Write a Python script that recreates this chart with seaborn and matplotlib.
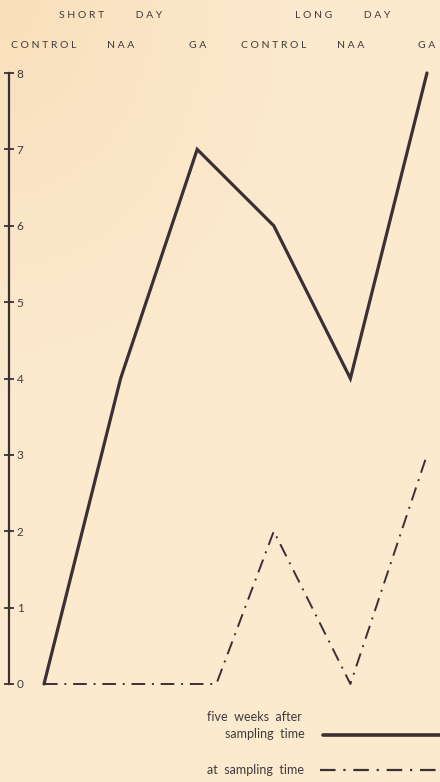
import numpy as np
import pandas as pd
import seaborn as sns
import matplotlib.pyplot as plt

# Data
treatments = ['CONTROL', 'NAA', 'GA', 'CONTROL', 'NAA', 'GA']
five_weeks_x = [0, 1, 2, 3, 4, 5]
five_weeks_y = [0, 4, 7, 6, 4, 8]
sampling_x = [0, 2.25, 3, 4, 5]
sampling_y = [0, 0, 2, 0, 3]
yticks = [0, 1, 2, 3, 4, 5, 6, 7, 8]

INK = '#3b3036'
TXT = '#3f3a3c'
BG = '#fbe8cb'


def spaced(s):
    return ' '.join(s)


sns.set_theme(style='white')
plt.rcParams['font.family'] = ['Lato', 'DejaVu Sans']

fig = plt.figure(figsize=(4.4, 7.82), dpi=100, facecolor=BG)

# paper tint, a bit warmer in the upper left corner
bg = fig.add_axes([0, 0, 1, 1])
gx, gy = np.meshgrid(np.linspace(0, 1, 60), np.linspace(0, 1, 100))
d = np.clip(1 - np.hypot(gx / 0.7, gy / 0.5), 0, 1)
c0 = np.array([252, 234, 206]) / 255
c1 = np.array([249, 224, 188]) / 255
img = c0 + (c1 - c0) * d[..., None]
bg.imshow(img, extent=[0, 1, 0, 1], aspect='auto', origin='upper')
bg.axis('off')

ax = fig.add_axes([9 / 440, 1 - 684 / 782, 431 / 440, (684 - 73) / 782])
ax.set_facecolor('none')

df1 = pd.DataFrame({'x': five_weeks_x, 'y': five_weeks_y})
df2 = pd.DataFrame({'x': sampling_x, 'y': sampling_y})
sns.lineplot(data=df1, x='x', y='y', ax=ax, color=INK, lw=2.3,
             clip_on=False, solid_joinstyle='miter')
sns.lineplot(data=df2, x='x', y='y', ax=ax, color=INK, lw=1.4,
             linestyle=(0, (7, 3.5, 1, 3.5)), clip_on=False)

ax.set_xlim(-0.457, 5.17)
ax.set_ylim(0, 8)
for s in ['top', 'right', 'bottom']:
    ax.spines[s].set_visible(False)
ax.spines['left'].set_color(INK)
ax.spines['left'].set_linewidth(1.6)

ax.set_yticks(yticks)
ax.tick_params(axis='y', left=True, direction='inout', length=7, width=1.3, color=INK,
               pad=-9, labelsize=8.5, labelcolor=TXT)
for lab in ax.get_yticklabels():
    lab.set_ha('left')

ax.xaxis.tick_top()
ax.set_xticks(five_weeks_x, [spaced(t) for t in treatments])
ax.tick_params(axis='x', top=False, length=0, pad=16.5, labelsize=7.5, labelcolor=TXT)
ax.set_xlabel('')
ax.set_ylabel('')

# day group headers
gap = ' ' * 12
ax.text(0.875, 1 + 58 / 611, spaced('SHORT') + gap + spaced('DAY'),
        transform=ax.get_xaxis_transform(), ha='center', va='center', fontsize=7.5, color=TXT)
ax.text(3.9, 1 + 58 / 611, spaced('LONG') + gap + spaced('DAY'),
        transform=ax.get_xaxis_transform(), ha='center', va='center', fontsize=7.5, color=TXT)

# legend drawn by hand
fig.text(207 / 440, 1 - 717 / 782, 'five  weeks  after', fontsize=9, color=TXT,
         ha='left', va='center')
fig.text(305 / 440, 1 - 734 / 782, 'sampling  time', fontsize=9, color=TXT,
         ha='right', va='center')
fig.add_artist(plt.Line2D([323 / 440, 1.0], [1 - 735 / 782, 1 - 735 / 782],
                          color=INK, lw=2.6))
fig.text(207 / 440, 1 - 770 / 782, 'at  sampling  time', fontsize=9, color=TXT,
         ha='left', va='center')
fig.add_artist(plt.Line2D([320 / 440, 1.0], [1 - 770 / 782, 1 - 770 / 782],
                          color=INK, lw=1.6, linestyle=(0, (7, 3.5, 1, 3.5))))

fig.savefig('out.png', dpi=100, facecolor=BG)
